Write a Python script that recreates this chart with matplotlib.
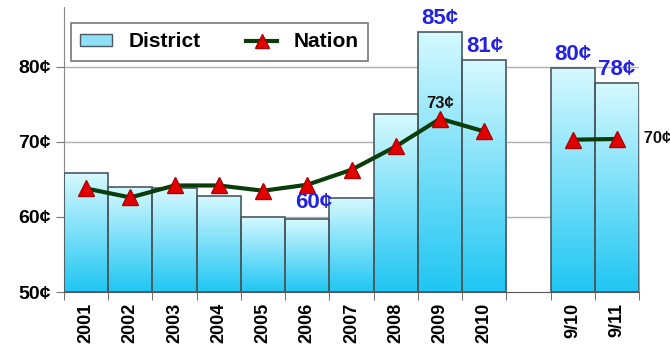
import numpy as np
import matplotlib
matplotlib.use("Agg")
import matplotlib.pyplot as plt
from matplotlib.patches import Rectangle
from matplotlib.lines import Line2D
from matplotlib.colors import LinearSegmentedColormap

plt.rcParams["font.family"] = ["Liberation Sans", "DejaVu Sans"]
plt.rcParams["font.weight"] = "bold"

# data (cents)
labels = ["2001", "2002", "2003", "2004", "2005", "2006", "2007", "2008",
          "2009", "2010", "", "9/10", "9/11"]
district = [65.8, 64.0, 63.8, 62.8, 60.0, 59.7, 62.5, 73.7, 84.7, 80.9,
            None, 79.8, 77.8]
nation = [63.8, 62.6, 64.2, 64.2, 63.5, 64.3, 66.3, 69.4, 73.1, 71.4,
          None, 70.3, 70.4]

# value labels shown in the chart
blue_labels = {5: "60¢", 8: "85¢", 9: "81¢", 11: "80¢", 12: "78¢"}

BOTTOM = 50
grad_cmap = LinearSegmentedColormap.from_list("bar", ["#1fc6f3", "#d6f9ff"])

fig = plt.figure(figsize=(6.7, 3.47), dpi=100)
ax = fig.add_axes([0.0955, 0.1585, 0.8585, 0.8215])

x = np.arange(len(labels))
ax.set_xlim(-0.5, len(labels) - 0.5)
ax.set_ylim(BOTTOM, 88)

# horizontal grid
for g in [60, 70, 80]:
    ax.axhline(g, color="#b0b0b0", lw=1, zorder=0)

# gradient-filled bars
grad = np.linspace(0, 1, 256).reshape(-1, 1)
for i, v in enumerate(district):
    if v is None:
        continue
    rect = Rectangle((i - 0.5, BOTTOM), 1.0, v - BOTTOM, facecolor="none",
                     edgecolor="#4a5a60", lw=1.2, zorder=3)
    ax.add_patch(rect)
    im = ax.imshow(grad, cmap=grad_cmap, aspect="auto", origin="lower",
                   extent=(i - 0.5, i + 0.5, BOTTOM, v), zorder=2)
    im.set_clip_path(rect)

# nation line (two segments, gap between 2010 and 9/10)
seg1 = list(range(10))
seg2 = [11, 12]
for seg in (seg1, seg2):
    ax.plot(seg, [nation[i] for i in seg], color="#0b3d0b", lw=3,
            marker="^", markersize=11, markerfacecolor="#e00000",
            markeredgecolor="#b00000", zorder=5)

# value labels
for i, txt in blue_labels.items():
    if i == 5:
        ax.text(i + 0.15, 61.9, txt, color="#2323e0", fontsize=16,
                fontweight="bold", ha="center", va="center", zorder=6)
    else:
        ax.text(i, district[i] + 0.4, txt, color="#2323e0", fontsize=16,
                fontweight="bold", ha="center", va="bottom", zorder=6)
ax.text(8, nation[8] + 1.0, "73¢", color="#111111", fontsize=12,
        fontweight="bold", ha="center", va="bottom", zorder=6)
ax.text(12.5, nation[12], " 70¢", color="#111111", fontsize=12,
        fontweight="bold", ha="left", va="center", zorder=6, clip_on=False)

# axes styling
ax.set_yticks([50, 60, 70, 80])
ax.set_yticklabels(["50¢", "60¢", "70¢", "80¢"], fontsize=14, fontweight="bold")
ax.set_xticks(x)
ax.set_xticklabels(labels, rotation=90, fontsize=13, fontweight="bold")
ax.tick_params(axis="x", length=0, pad=8)
ax.set_xticks(np.arange(-0.5, len(labels)), minor=True)
ax.tick_params(axis="x", which="minor", length=6, color="#555555")
ax.tick_params(axis="y", length=6, color="#777777")
for s in ["top", "right"]:
    ax.spines[s].set_visible(False)
ax.spines["left"].set_color("#888888")
ax.spines["bottom"].set_color("#555555")

# legend
handles = [
    Rectangle((0, 0), 1, 1, facecolor="#8fe0f7", edgecolor="#4a5a60"),
    Line2D([], [], color="#0b3d0b", lw=3, marker="^", markersize=10,
           markerfacecolor="#e00000", markeredgecolor="#b00000"),
]
leg = ax.legend(handles, ["District", "Nation"], loc="upper left",
                bbox_to_anchor=(0.012, 0.944), ncol=2, frameon=True,
                fancybox=False, edgecolor="#555555",
                prop={"size": 15, "weight": "bold"},
                handlelength=1.5, handleheight=0.5, handletextpad=0.8,
                columnspacing=2.2, borderpad=0.45, borderaxespad=0)
leg.get_frame().set_linewidth(1.2)
leg.set_zorder(7)

fig.savefig("out.png", dpi=100)
